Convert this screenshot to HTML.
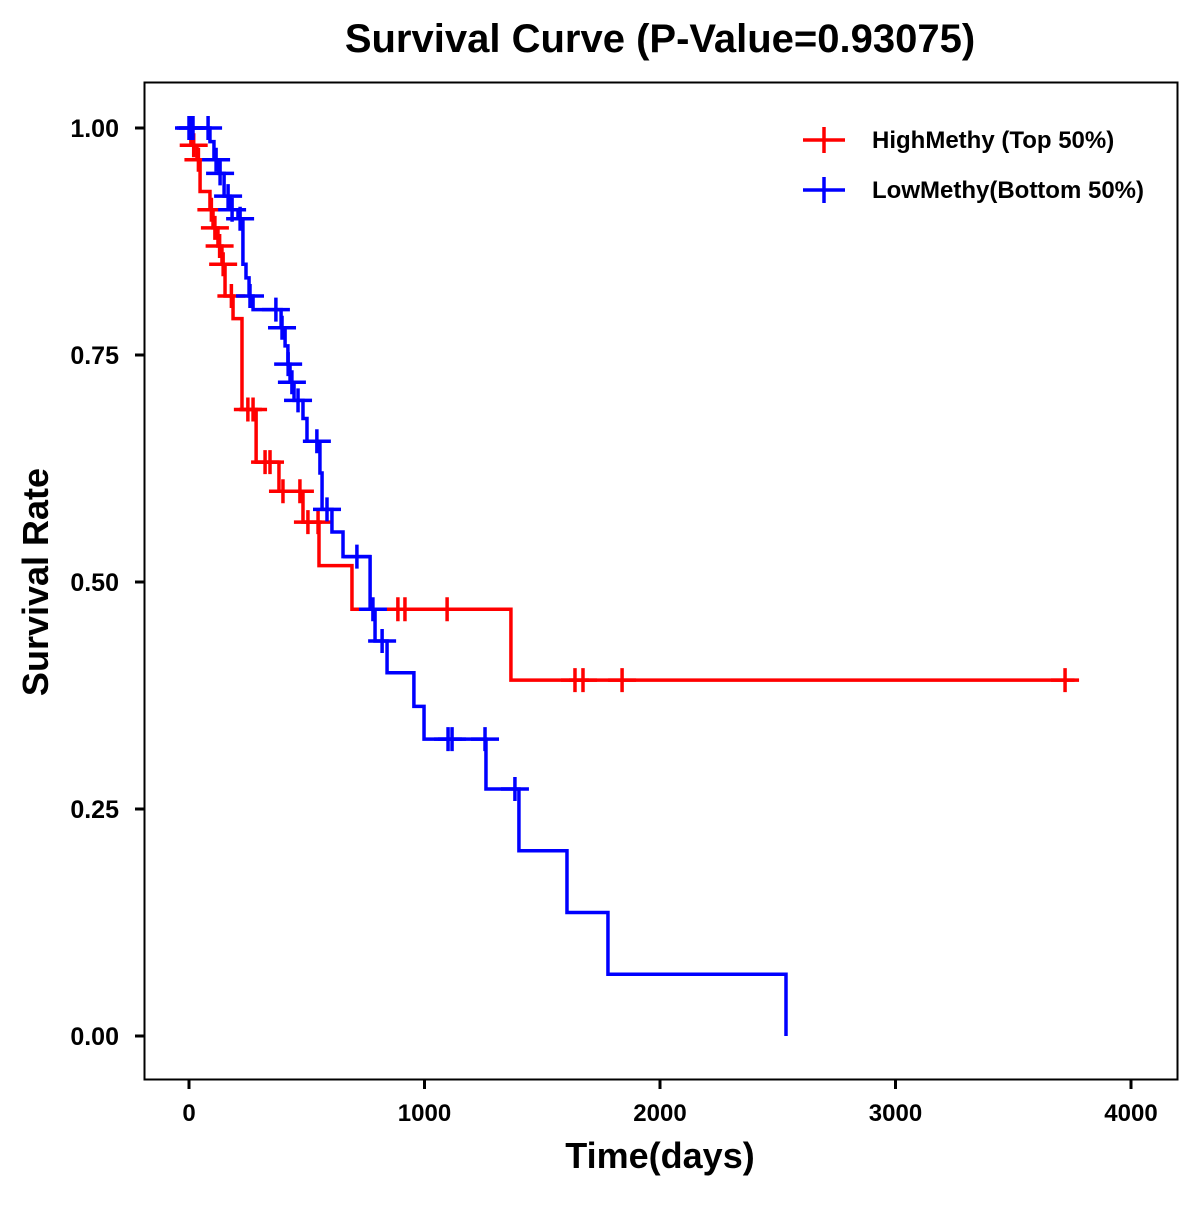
<!DOCTYPE html>
<html><head><meta charset="utf-8"><style>
body{margin:0;background:#fff;}
svg text{font-family:"Liberation Sans",Arial,sans-serif;font-weight:bold;}
</style></head><body>
<svg id="chart" width="1200" height="1200" viewBox="0 0 1200 1200">
<text x="660" y="52" font-size="40" text-anchor="middle">Survival Curve (P-Value=0.93075)</text>
<rect x="144.5" y="82.5" width="1033" height="997" fill="none" stroke="#000" stroke-width="2"/>
<g id="axes"></g>
<g id="series"></g>
<text x="660" y="1168" font-size="36" text-anchor="middle">Time(days)</text>
<text transform="translate(48,582) rotate(-90)" font-size="36" text-anchor="middle">Survival Rate</text>
<g>
<g>
<line x1="803" y1="140" x2="845" y2="140" stroke="#f00" stroke-width="3.5"/>
<line x1="824" y1="127" x2="824" y2="153" stroke="#f00" stroke-width="3.5"/>
<text x="872" y="148" font-size="24">HighMethy (Top 50%)</text></g>
<g>
<line x1="803" y1="190" x2="845" y2="190" stroke="#00f" stroke-width="3.5"/>
<line x1="824" y1="177" x2="824" y2="203" stroke="#00f" stroke-width="3.5"/>
<text x="872" y="198" font-size="24">LowMethy(Bottom 50%)</text></g>
</g>
</svg>
<script>
const xTicks=[0,1000,2000,3000,4000];
const yTicks=[0,0.25,0.5,0.75,1.0];
const yTickLabels=["0.00","0.25","0.50","0.75","1.00"];
const highTimes=[8,34,47,89,102,123,140,153,187,225,285,382,484,552,692,1367];
const highSurv=[0.981,0.965,0.930,0.910,0.890,0.870,0.850,0.815,0.790,0.690,0.632,0.600,0.566,0.518,0.470,0.392];
const highEnd=3760;
const highCensor=[20,40,95,110,130,145,180,250,272,323,344,399,471,505,548,887,917,1096,1639,1673,1839,3720];
const lowTimes=[89,106,127,149,174,208,229,242,255,272,391,408,420,429,446,484,501,556,565,607,654,769,790,841,955,998,1261,1401,1605,1779,2535];
const lowSurv=[0.985,0.965,0.950,0.925,0.910,0.900,0.850,0.835,0.815,0.800,0.780,0.760,0.740,0.720,0.700,0.680,0.655,0.620,0.580,0.555,0.528,0.470,0.435,0.400,0.363,0.327,0.272,0.204,0.136,0.068,0.0];
const lowEnd=2535;
const lowCensor=[0,8,17,81,115,132,166,183,217,259,369,395,421,437,463,543,586,713,781,820,1100,1117,1257,1384];

const NS="http://www.w3.org/2000/svg";
const X=t=>189+t*0.2355;
const Y=s=>1036-s*908;
function mk(tag,attrs,parent){const e=document.createElementNS(NS,tag);for(const k in attrs)e.setAttribute(k,attrs[k]);parent.appendChild(e);return e;}
const axes=document.getElementById('axes');
xTicks.forEach((t)=>{
  const l=mk('line',{x1:X(t),x2:X(t),y1:1080,y2:1089,stroke:'#000','stroke-width':3},axes);
  
  
  const tx=mk('text',{x:X(t),y:1121,'font-size':24,'text-anchor':'middle'},axes);
  tx.textContent=String(t);
  
  
});
yTicks.forEach((s,i)=>{
  const l=mk('line',{x1:135,x2:144,y1:Y(s),y2:Y(s),stroke:'#000','stroke-width':3},axes);
  
  
  const tx=mk('text',{x:119,y:Y(s)+9,'font-size':25,'text-anchor':'end'},axes);
  tx.textContent=yTickLabels[i];
  
  
});
function survAt(times,surv,t){let s=1;for(let i=0;i<times.length;i++){if(times[i]<=t)s=surv[i];}return s;}
const series=document.getElementById('series');
function draw(times,surv,end,cens,color,name){
  const g=mk('g',{},series);
  
  
  let d='M'+X(0)+','+Y(1);
  for(let i=0;i<times.length;i++){d+=' H'+X(times[i])+' V'+Y(surv[i]);}
  d+=' H'+X(end);
  const p=mk('path',{d:d,fill:'none',stroke:color,'stroke-width':3.5},g);
  
  
  cens.forEach(t=>{
    const cy=Y(survAt(times,surv,t)),cx=X(t);
    const c=mk('path',{d:`M${cx-14},${cy} H${cx+14} M${cx},${cy-12} V${cy+12}`,stroke:color,'stroke-width':3.5,fill:'none'},g);
    
    
  });
}
draw(highTimes,highSurv,highEnd,highCensor,'#f00','high-methy');
draw(lowTimes,lowSurv,lowEnd,lowCensor,'#00f','low-methy');
</script>
</body></html>
